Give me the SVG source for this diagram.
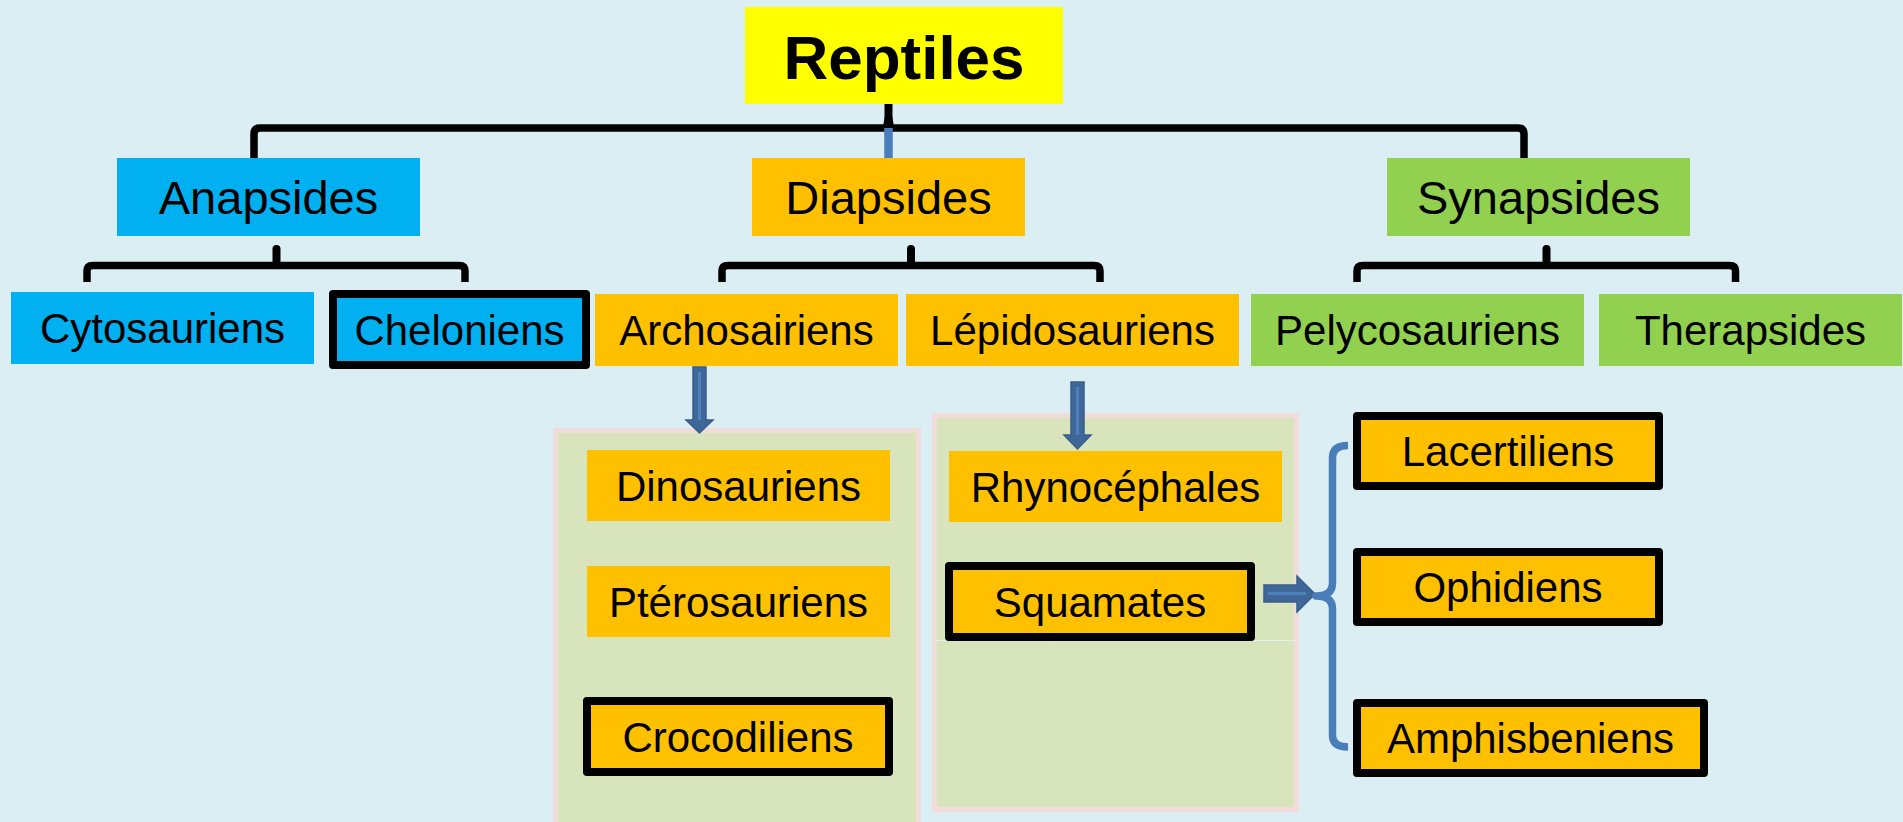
<svg xmlns="http://www.w3.org/2000/svg" width="1903" height="822" viewBox="0 0 1903 822">
<style>
  text { font-family: "Liberation Sans", Arial, sans-serif; fill: #000; text-anchor: middle; }
  .t0 { font-size: 62px; font-weight: bold; }
  .t1 { font-size: 47px; }
  .t2 { font-size: 42px; }
  .cyan { fill: #00b0f0; }
  .orange { fill: #ffc000; }
  .green { fill: #92d050; }
  .bord { stroke: #000; stroke-width: 8; stroke-linejoin: round; }
  .panel { fill: #d8e4bc; stroke: #f2dcdb; stroke-width: 5; }
  .brace { fill: none; stroke: #000; stroke-width: 7.5; stroke-linejoin: round; }
  .stem { fill: none; stroke: #000; stroke-width: 8; stroke-linecap: round; }
  .barrow { fill: #3f6899; stroke: #385d8a; stroke-width: 1.5; stroke-linejoin: miter; }
  .hl { stroke: #4f81bd; stroke-width: 3; fill: none; }
</style>
<rect x="0" y="0" width="1903" height="822" fill="#daeef3"/>

<g id="panels">
  <rect class="panel" x="555.5" y="430.5" width="363" height="400"/>
  <rect class="panel" x="934.5" y="415.5" width="362" height="394"/>
  <line x1="936" y1="640.5" x2="1295" y2="640.5" stroke="#e3f0f3" stroke-width="1"/>
</g>

<g id="connectors">
  <path class="brace" d="M254,158 V134 Q254,128 260,128 H1518 Q1524,128 1524,134 V158"/>
  <path class="stem" d="M888.5,98 V126"/>
  <path d="M883,126 L885,116 H892 L894,126 Z" fill="#000"/>
  <line x1="888.5" y1="128" x2="888.5" y2="158" stroke="#4a7ebb" stroke-width="8.5"/>

  <path class="brace" d="M87,282 V271 Q87,265.5 93,265.5 H459 Q465,265.5 465,271 V282"/>
  <path class="stem" d="M276.5,249 V264"/>
  <path class="brace" d="M722,282 V271 Q722,265.5 728,265.5 H1094 Q1100,265.5 1100,271 V282"/>
  <path class="stem" d="M911,249 V264"/>
  <path class="brace" d="M1357,282 V271 Q1357,265.5 1363,265.5 H1729.5 Q1735.5,265.5 1735.5,271 V282"/>
  <path class="stem" d="M1546.5,249 V264"/>

  <path class="barrow" d="M693,367 H706 V420 H713 L699.5,433 L686,420 H693 Z"/>
  <line class="hl" x1="699.5" y1="372" x2="699.5" y2="420"/>
  <path class="barrow" d="M1071,382 H1084 V435 H1091 L1077.5,449 L1064,435 H1071 Z"/>
  <line class="hl" x1="1077.5" y1="387" x2="1077.5" y2="435"/>
  <path class="barrow" d="M1264,585 V602 H1297 V612 L1315,594 L1297,576 V585 Z"/>
  <line class="hl" x1="1268" y1="593.5" x2="1306" y2="593.5"/>

  <path d="M1348,445.5 Q1332.5,445.5 1332.5,458 V583 Q1332.5,596 1316,596 Q1332.5,596 1332.5,609 V735 Q1332.5,747 1348,747" fill="none" stroke="#4a7ebb" stroke-width="7.5" stroke-linejoin="round"/>
</g>

<g id="reptiles">
  <rect x="745" y="7" width="318" height="97" fill="#ffff00"/>
  <text class="t0" x="904" y="79">Reptiles</text>
</g>

<g id="anapsides">
  <rect class="cyan" x="117" y="158" width="303" height="78"/>
  <text class="t1" x="268.5" y="214">Anapsides</text>
</g>
<g id="diapsides">
  <rect class="orange" x="752" y="158" width="273" height="78"/>
  <text class="t1" x="888.5" y="214">Diapsides</text>
</g>
<g id="synapsides">
  <rect class="green" x="1387" y="158" width="303" height="78"/>
  <text class="t1" x="1538.5" y="214">Synapsides</text>
</g>

<g id="cytosauriens">
  <rect class="cyan" x="11" y="292" width="303" height="72"/>
  <text class="t2" x="162.5" y="343">Cytosauriens</text>
</g>
<g id="cheloniens">
  <rect class="cyan bord" x="333" y="294" width="253" height="71"/>
  <text class="t2" x="459.5" y="344.5">Cheloniens</text>
</g>
<g id="archosairiens">
  <rect class="orange" x="595" y="294" width="303" height="72"/>
  <text class="t2" x="746.5" y="345">Archosairiens</text>
</g>
<g id="lepidosauriens">
  <rect class="orange" x="906" y="294" width="333" height="72"/>
  <text class="t2" x="1072.5" y="345">Lépidosauriens</text>
</g>
<g id="pelycosauriens">
  <rect class="green" x="1251" y="294" width="333" height="72"/>
  <text class="t2" x="1417.5" y="345">Pelycosauriens</text>
</g>
<g id="therapsides">
  <rect class="green" x="1599" y="294" width="303" height="72"/>
  <text class="t2" x="1750.5" y="345">Therapsides</text>
</g>

<g id="dinosauriens">
  <rect class="orange" x="587" y="450" width="303" height="71"/>
  <text class="t2" x="738.5" y="501">Dinosauriens</text>
</g>
<g id="pterosauriens">
  <rect class="orange" x="587" y="566" width="303" height="71"/>
  <text class="t2" x="738.5" y="617">Ptérosauriens</text>
</g>
<g id="crocodiliens">
  <rect class="orange bord" x="587" y="701" width="302" height="71"/>
  <text class="t2" x="738" y="751.5">Crocodiliens</text>
</g>

<g id="rhynocephales">
  <rect class="orange" x="949" y="451" width="333" height="71"/>
  <text class="t2" x="1115.5" y="502">Rhynocéphales</text>
</g>
<g id="squamates">
  <rect class="orange bord" x="949" y="566" width="302" height="71"/>
  <text class="t2" x="1100" y="616.5">Squamates</text>
</g>

<g id="lacertiliens">
  <rect class="orange bord" x="1357" y="416" width="302" height="70"/>
  <text class="t2" x="1508" y="466">Lacertiliens</text>
</g>
<g id="ophidiens">
  <rect class="orange bord" x="1357" y="552" width="302" height="70"/>
  <text class="t2" x="1508" y="602">Ophidiens</text>
</g>
<g id="amphisbeniens">
  <rect class="orange bord" x="1357" y="703" width="347" height="70"/>
  <text class="t2" x="1530.5" y="753">Amphisbeniens</text>
</g>
</svg>
